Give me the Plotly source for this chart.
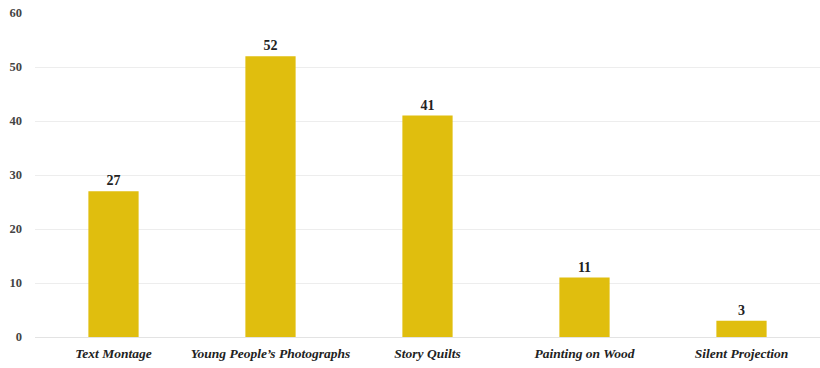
import plotly.graph_objects as go

categories = ["Text Montage", "Young People’s Photographs", "Story Quilts", "Painting on Wood", "Silent Projection"]
values = [27, 52, 41, 11, 3]
y_ticks = [0, 10, 20, 30, 40, 50, 60]

FONT = "Liberation Serif"
fig = go.Figure(go.Bar(
    x=categories, y=values,
    marker=dict(color="#E0BE0E", line=dict(width=0)),
    text=[str(v) for v in values], textposition="outside",
    textfont=dict(family=FONT, size=14, color="#222", weight="bold"),
    cliponaxis=False,
))
fig.update_layout(
    width=820, height=368,
    margin=dict(l=35, r=0, t=13, b=31),
    paper_bgcolor="white", plot_bgcolor="white",
    bargap=0.68, showlegend=False,
    font=dict(family=FONT, color="#333"),
)
fig.update_xaxes(
    tickfont=dict(family=FONT, size=13.5, color="#222", style="italic", weight="bold"),
    showgrid=False, showline=False, ticks="", ticklabelstandoff=6,
)
fig.update_yaxes(
    range=[0, 60], tickvals=y_ticks,
    tickfont=dict(family=FONT, size=12.5, color="#444", weight="bold"),
    showgrid=True, gridcolor="#EDEDED", gridwidth=1,
    zeroline=True, zerolinecolor="#E3E3E3", zerolinewidth=1,
    ticks="", ticklabelstandoff=12,
)
fig.write_html("out.html")
